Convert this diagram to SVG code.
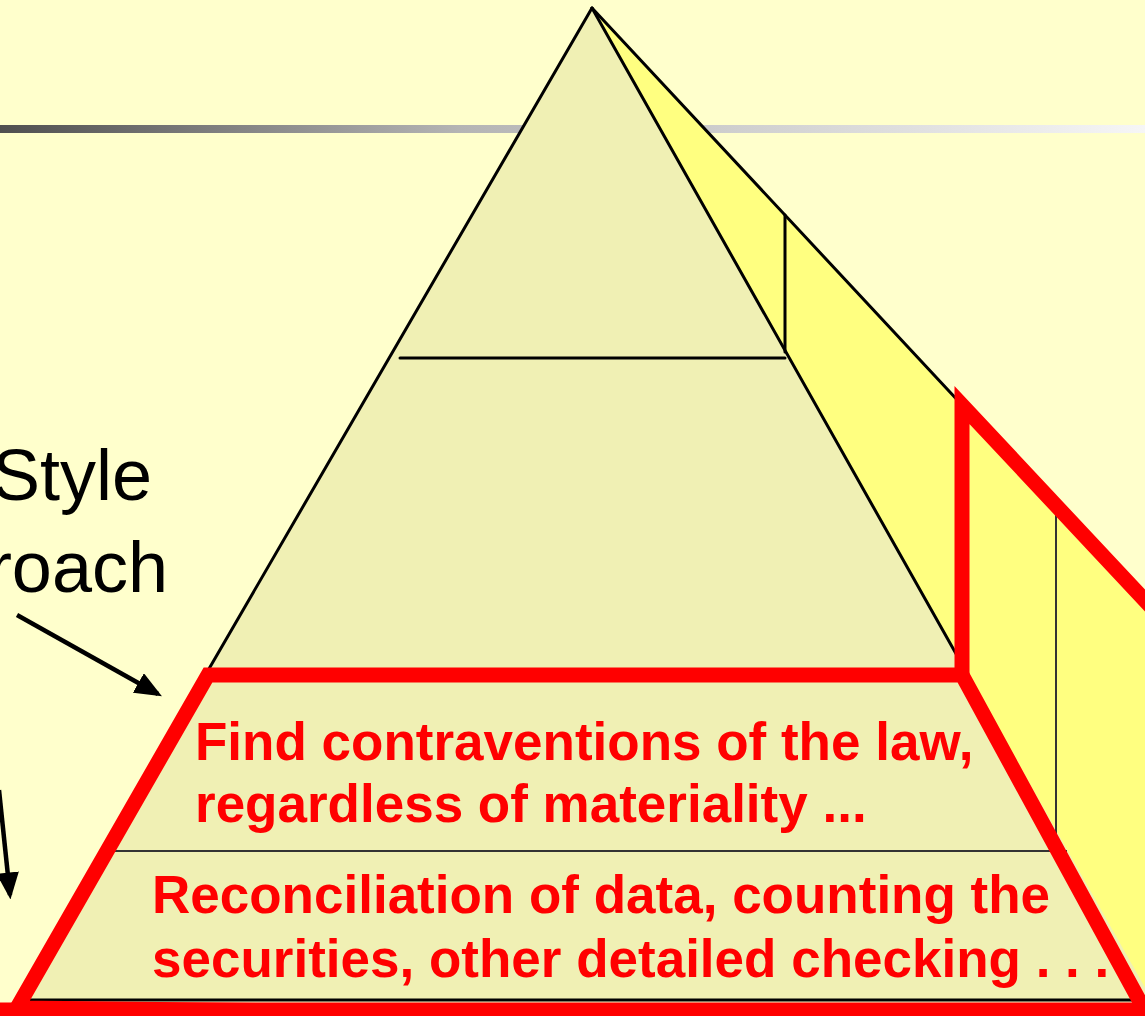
<svg xmlns="http://www.w3.org/2000/svg" width="1145" height="1016" viewBox="0 0 1145 1016">
<defs>
<linearGradient id="bar" x1="0" y1="0" x2="1145" y2="0" gradientUnits="userSpaceOnUse">
<stop offset="0" stop-color="#4f4f4f"/>
<stop offset="0.4" stop-color="#b4b4b4"/>
<stop offset="1" stop-color="#f6f6f6"/>
</linearGradient>
<marker id="ah" markerWidth="6" markerHeight="5" refX="5" refY="2.5" orient="auto" markerUnits="strokeWidth">
<path d="M0,0 L6,2.5 L0,5 Z" fill="#000"/>
</marker>
<style>
.edge{stroke:#000;stroke-width:3;fill:none;stroke-linecap:round}
.thin{stroke:#333;stroke-width:2;fill:none}
.red{stroke:#ff0000;stroke-width:15;fill:none;stroke-linejoin:miter}
.lbl{font-family:"Liberation Sans",Arial,sans-serif;font-weight:bold;font-size:53px;fill:#ff0000}
.side{font-family:"Liberation Sans",Arial,sans-serif;font-size:72px;fill:#000}
.arr{stroke:#000;stroke-width:4.5;fill:none}
</style>
</defs>
<rect x="0" y="0" width="1145" height="1016" fill="#ffffcc"/>
<rect x="0" y="125" width="1145" height="8" fill="url(#bar)"/>
<g id="pyramid">
<polygon id="right-face" points="592,8 1180,637 1180,1020 1162,1020" fill="#ffff80"/>
<polygon id="front-face" points="592,8 17,1000 1152,1000" fill="#f0f0b4"/>
<line class="edge" x1="592" y1="8" x2="962" y2="405"/>
<line class="edge" x1="592" y1="8" x2="968" y2="675"/>
<line class="edge" x1="592" y1="8" x2="17" y2="1000"/>
<line class="edge" x1="17" y1="1000" x2="1152" y2="1000"/>
<line class="edge" x1="400" y1="358" x2="785" y2="358"/>
<line class="edge" x1="785" y1="215" x2="785" y2="352"/>
<line class="thin" x1="107" y1="851" x2="1067" y2="851"/>
<line class="thin" x1="1056" y1="506" x2="1056" y2="851"/>
</g>
<g id="highlight">
<polygon class="red" points="208,675 962,675 1150,1020 17,1008"/>
<polyline class="red" points="962,675 962,405 1152,608" stroke-linejoin="bevel"/>
<line class="red" x1="0" y1="1010" x2="1145" y2="1010"/>
</g>
<g id="connectors">
<line class="arr" x1="17" y1="615" x2="158" y2="694" marker-end="url(#ah)"/>
<line class="arr" x1="-1" y1="790" x2="10" y2="895" marker-end="url(#ah)"/>
</g>
<g id="side-label">
<text class="side" x="152" y="500" text-anchor="end">Style</text>
<text class="side" x="168" y="592" text-anchor="end">roach</text>
</g>
<g id="layer-labels">
<text class="lbl" x="195" y="760">Find contraventions of the law,</text>
<text class="lbl" x="195" y="822">regardless of materiality ...</text>
<text class="lbl" x="152" y="913">Reconciliation of data, counting the</text>
<text class="lbl" x="152" y="977">securities, other detailed checking . . .</text>
</g>
</svg>
